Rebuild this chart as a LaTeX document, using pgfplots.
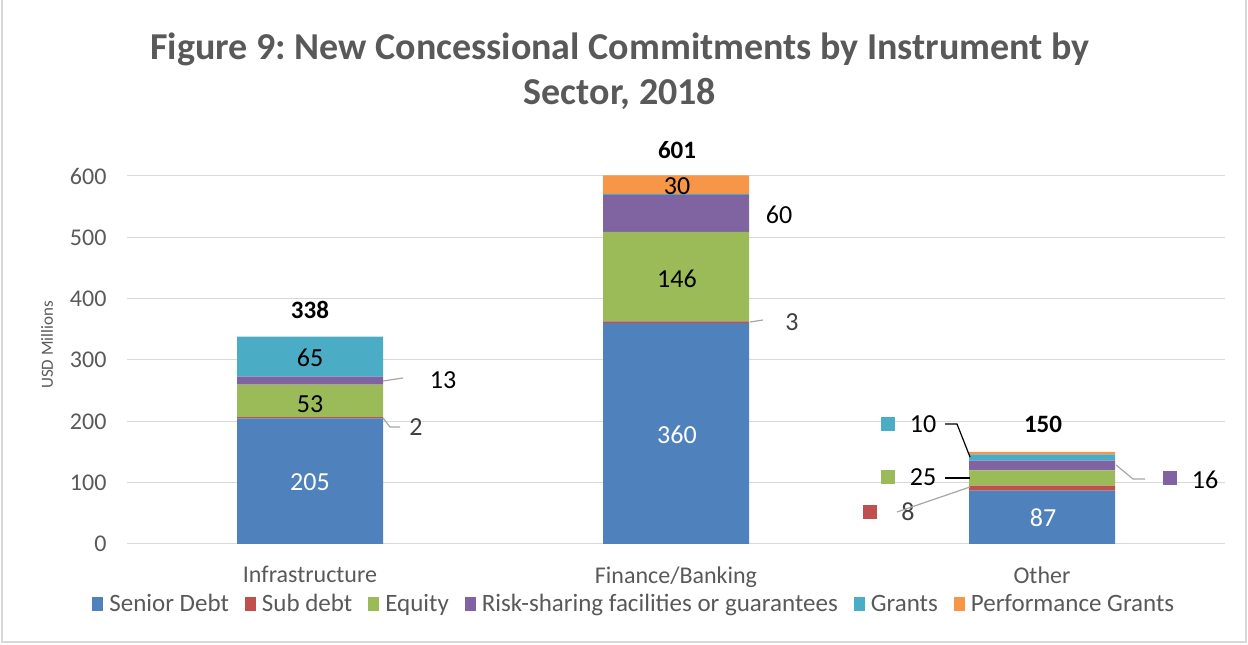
\documentclass[border=0pt]{standalone}
\usepackage{fontspec}
\setmainfont{Carlito}
\usepackage{pgfplots}
\usepackage{pgfplotstable}
\pgfplotsset{compat=1.18}
\definecolor{cSen}{HTML}{4F81BD}
\definecolor{cSub}{HTML}{C0504D}
\definecolor{cEq}{HTML}{9BBB59}
\definecolor{cRisk}{HTML}{8064A2}
\definecolor{cGr}{HTML}{4BACC6}
\definecolor{cPerf}{HTML}{F79646}
\definecolor{txt}{HTML}{595959}
\definecolor{dtxt}{HTML}{404040}
\definecolor{gridc}{HTML}{D9D9D9}
\definecolor{lead}{HTML}{A6A6A6}
\pgfplotstableread{
x senior sub equity risk grants perf
0 205 2 53 13 65 0
1 360 3 146 60 2 30
2 87 8 25 16 10 4
}\datatable
\frenchspacing
\begin{document}
\begin{tikzpicture}
\useasboundingbox (0pt,0pt) rectangle (1248pt,645pt);
\draw[gridc, line width=1.5pt] (2pt,3pt) rectangle (1246pt,650pt);
\begin{axis}[
  at={(127pt,101pt)}, anchor=south west,
  scale only axis, width=1098pt, height=368pt,
  xmin=-0.5, xmax=2.5, ymin=0, ymax=600,
  ybar stacked, bar width=146pt,
  axis line style={draw=none}, tick style={draw=none},
  ymajorgrids, grid style={gridc, line width=1pt},
  ytick={0,100,...,600},
  xtick={0,1,2}, xticklabels={Infrastructure,Finance/Banking,Other},
  /pgf/number format/assume math mode=true,
  yticklabel style={font=\fontsize{24}{27}\selectfont, text=txt, xshift=-17pt},
  xticklabel style={font=\fontsize{24}{27}\selectfont, text=txt, yshift=-19pt},
  clip=false,
  legend style={at={(0.462,-0.163)}, anchor=center, draw=none, fill=none,
    legend columns=6, font=\fontsize{25}{28}\selectfont, text=txt,
    /tikz/every odd column/.append style={column sep=4pt},
    /tikz/every even column/.append style={column sep=14pt}},
  legend image code/.code={\fill (0pt,-7pt) rectangle (11pt,7pt);},
]
\addplot[fill=cSen, draw=none] table[x=x,y=senior]{\datatable};
\addplot[fill=cSub, draw=none] table[x=x,y=sub]{\datatable};
\addplot[fill=cEq, draw=none] table[x=x,y=equity]{\datatable};
\addplot[fill=cRisk, draw=none] table[x=x,y=risk]{\datatable};
\addplot[fill=cGr, draw=none] table[x=x,y=grants]{\datatable};
\addplot[fill=cPerf, draw=none] table[x=x,y=perf]{\datatable};
\legend{Senior Debt,Sub debt,Equity,Risk-sharing facilities or guarantees,Grants,Performance Grants}
\end{axis}
\begin{scope}[x=1pt,y=1pt]
% title
\node[font=\fontsize{38}{45}\selectfont\bfseries, text=txt, align=center] at (620,574)
  {Figure 9: New Concessional Commitments by Instrument by\\Sector, 2018};
\node[font=\fontsize{17}{20}\selectfont, text=txt, rotate=90] at (47,300) {USD Millions};
% in-bar labels
\begin{scope}[every node/.style={font=\fontsize{26}{30}\selectfont}]
\node[text=white] at (310,163) {205};
\node at (310,241) {53};
\node at (310,287) {65};
\node[text=white] at (677,210) {360};
\node at (677,366) {146};
\node at (677,459) {30};
\node at (779,430) {60};
\node[text=white] at (1043,127) {87};
\node at (443,265) {13};
\node[text=dtxt] at (416,218) {2};
\node[text=dtxt] at (792,323) {3};
\node at (923,221) {10};
\node at (923,168) {25};
\node[text=dtxt] at (908,133) {8};
\node at (1205,165) {16};
\end{scope}
\begin{scope}[every node/.style={font=\fontsize{25}{30}\selectfont\bfseries}]
\node at (310,335) {338};
\node at (677,495) {601};
\node at (1043,221) {150};
\end{scope}
% leader lines
\draw[lead, line width=1.2pt] (383,264) -- (403,267);
\draw[lead, line width=1.2pt] (383,227) -- (390,218) -- (400,218);
\draw[lead, line width=1.2pt] (750,323) -- (763,325);
\draw[black, line width=1.2pt] (945,221) -- (957,221) -- (970,188);
\draw[black, line width=1.2pt] (945,167) -- (970,167);
\draw[lead, line width=1.2pt] (897,133) -- (970,158);
\draw[lead, line width=1.2pt] (1116,180) -- (1133,166) -- (1145,166);
% label keys
\fill[cGr] (881,214) rectangle (895,228);
\fill[cEq] (881,161) rectangle (895,175);
\fill[cSub] (863,126) rectangle (877,140);
\fill[cRisk] (1163,160) rectangle (1177,174);
\end{scope}
\end{tikzpicture}
\end{document}
